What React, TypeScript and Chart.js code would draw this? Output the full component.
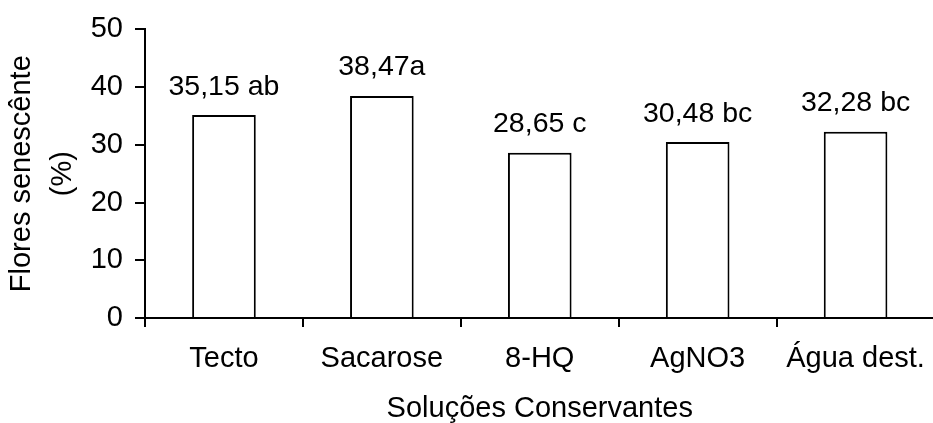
import React, { useEffect, useRef } from "react";
import { Chart, registerables } from "chart.js";

Chart.register(...registerables);

const categories = ["Tecto", "Sacarose", "8-HQ", "AgNO3", "Água dest."];
const values = [35.15, 38.47, 28.65, 30.48, 32.28];
const valueLabels = ["35,15 ab", "38,47a", "28,65 c", "30,48 bc", "32,28 bc"];
const yTitle = ["Flores senescênte", "(%)"];
const xTitle = "Soluções Conservantes";

const FONT = "'Liberation Sans', Arial, Helvetica, sans-serif";

const labelPlugin = {
  id: "barLabels",
  afterDatasetsDraw(chart: any) {
    const ctx = chart.ctx;
    const meta = chart.getDatasetMeta(0);
    ctx.save();
    ctx.font = `28.5px ${FONT}`;
    ctx.fillStyle = "#000";
    ctx.textAlign = "center";
    ctx.textBaseline = "alphabetic";
    meta.data.forEach((bar: any, i: number) => {
      ctx.fillText(valueLabels[i], bar.x, bar.y - 20.5);
    });
    ctx.restore();
  },
};

export default function App() {
  const ref = useRef<HTMLCanvasElement>(null);
  useEffect(() => {
    if (!ref.current) return;
    const chart = new Chart(ref.current, {
      type: "bar",
      data: {
        labels: categories,
        datasets: [
          {
            data: values,
            backgroundColor: "#ffffff",
            borderColor: "#000000",
            borderWidth: 2,
            categoryPercentage: 1,
            barPercentage: 0.403,
          },
        ],
      },
      options: {
        animation: false,
        responsive: false,
        maintainAspectRatio: false,
        layout: { padding: { top: 26, right: 1, left: 0, bottom: 0 } },
        plugins: { legend: { display: false }, tooltip: { enabled: false } },
        scales: {
          x: {
            grid: {
              offset: true,
              drawOnChartArea: false,
              drawTicks: true,
              tickLength: 9,
              color: "#000",
              lineWidth: 2,
            },
            border: { display: true, color: "#000", width: 2 },
            ticks: {
              color: "#000",
              padding: 15,
              maxRotation: 0,
              autoSkip: false,
              font: { family: FONT, size: 29, lineHeight: 1.2 },
            },
            title: {
              display: true,
              text: xTitle,
              color: "#000",
              font: { family: FONT, size: 29, lineHeight: 1 },
              padding: { top: 0, bottom: 0 },
            },
            afterFit(scale: any) {
              scale.height = 105;
            },
          },
          y: {
            min: 0,
            max: 50,
            ticks: {
              stepSize: 10,
              color: "#000",
              padding: 12,
              font: { family: FONT, size: 29 },
            },
            grid: {
              drawOnChartArea: false,
              drawTicks: true,
              tickLength: 10,
              color: "#000",
              lineWidth: 2,
            },
            border: { display: true, color: "#000", width: 2 },
            title: {
              display: true,
              text: yTitle,
              color: "#000",
              font: { family: FONT, size: 29, lineHeight: 1.414 },
              padding: { top: 1.5, bottom: 0 },
            },
            afterFit(scale: any) {
              scale.width = 145;
            },
          },
        },
      },
      plugins: [labelPlugin],
    });
    return () => chart.destroy();
  }, []);
  return (
    <div
      style={{
        position: "fixed",
        left: 0,
        top: 0,
        width: 933,
        height: 423,
        overflow: "hidden",
        background: "#fff",
      }}
    >
      <canvas ref={ref} width={940} height={423} style={{ width: 940, height: 423, display: "block" }} />
    </div>
  );
}
